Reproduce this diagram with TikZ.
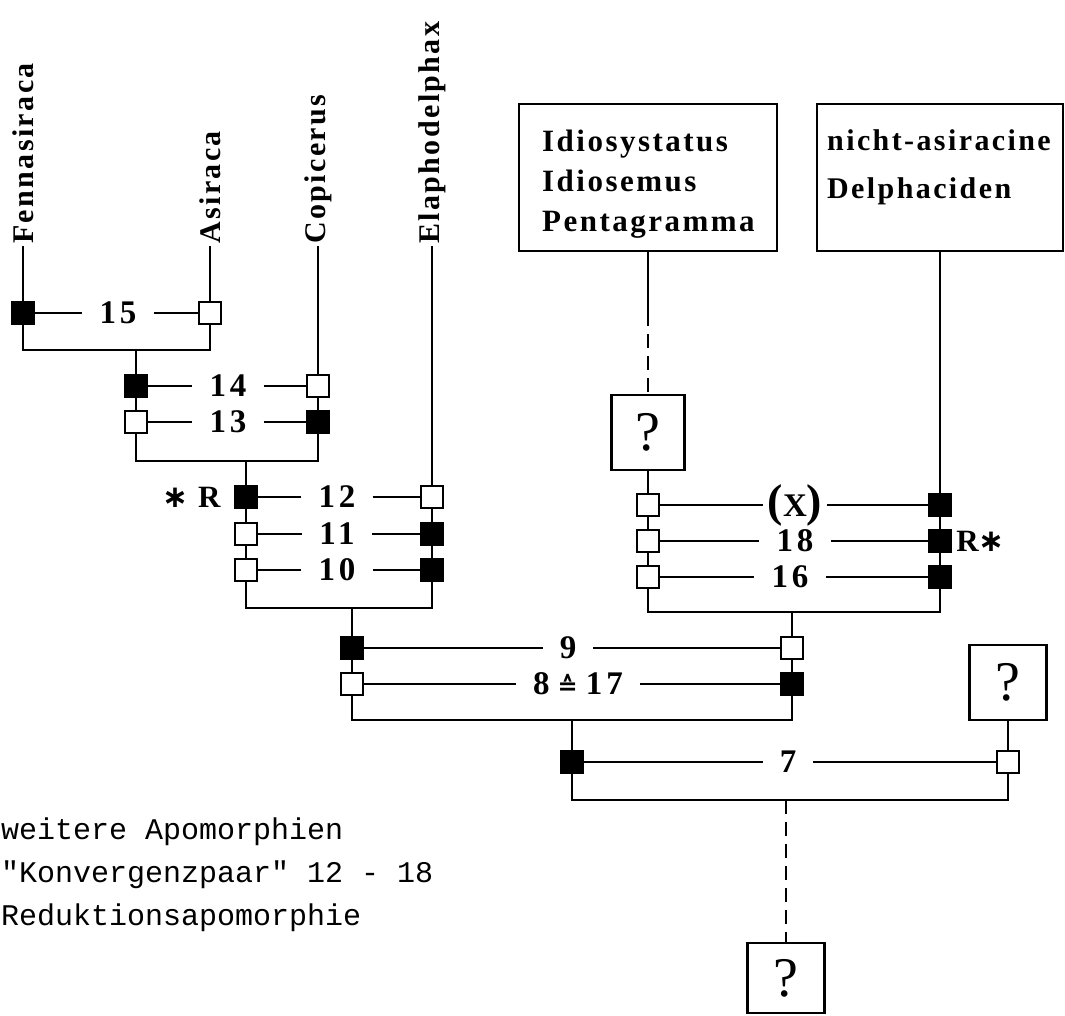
\documentclass[tikz,border=0pt]{standalone}
\usepackage{fontspec}
\setmainfont{Liberation Serif}
\newfontfamily\lblfont[LetterSpace=8]{Liberation Serif}
\newfontfamily\numfont[LetterSpace=12]{Liberation Serif}
\newfontfamily\legfont{Liberation Mono}
\newfontfamily\symfont{DejaVu Sans}
\begin{document}
\begin{tikzpicture}[x=1pt,y=-1pt, line width=2.4pt,
  sqf/.style={draw, fill=black, minimum size=22pt, inner sep=0pt},
  sqo/.style={draw, fill=white, minimum size=22pt, inner sep=0pt},
  taxon/.style={font=\lblfont\bfseries\fontsize{30}{36}\selectfont, rotate=90, anchor=west, inner sep=1pt},
  chr/.style={font=\numfont\bfseries\fontsize{33}{33}\selectfont, inner xsep=16pt, inner ysep=0pt},
  tbox/.style={draw, inner sep=0pt},
  qbox/.style={draw, inner sep=0pt, font=\fontsize{56}{56}\selectfont},
  boxtext/.style={font=\lblfont\bfseries\fontsize{31}{40}\selectfont, align=left, anchor=west, inner sep=0pt},
  rmark/.style={font=\lblfont\bfseries\fontsize{31}{31}\selectfont, inner sep=0pt},
  legend/.style={font=\legfont\fontsize{30}{30}\selectfont, anchor=west, inner sep=0pt},
  dashedline/.style={dash pattern=on 14pt off 8pt}]

\useasboundingbox (0,0) rectangle (1065,1015);

% taxa
\node[taxon] (fen) at (23,246) {Fennasiraca};
\node[taxon] (asi) at (210,246) {Asiraca};
\node[taxon] (cop) at (318,246) {Copicerus};
\node[taxon] (ela) at (432,246) {Elaphodelphax};

% boxes top right
\node[tbox, minimum width=258pt, minimum height=147pt] (idio) at (648,177.5) {};
\node[boxtext] (idiotxt) at (541,184) {Idiosystatus\\Idiosemus\\Pentagramma};
\node[tbox, minimum width=246pt, minimum height=147pt] (nicht) at (940,177.5) {};
\node[boxtext, font=\lblfont\bfseries\fontsize{30}{48}\selectfont] (nichttxt) at (826,167) {nicht-asiracine\\Delphaciden};

% question boxes
\node[qbox, minimum width=73pt, minimum height=75pt] (q1) at (648,432.5) {?};
\node[qbox, minimum width=77pt, minimum height=75pt] (q2) at (1008,682.5) {?};
\node[qbox, minimum width=77pt, minimum height=70pt] (q3) at (786,978) {?};

% squares
\node[sqf] (f15) at (23,313) {};
\node[sqo] (a15) at (210,313) {};
\node[sqf] (l14) at (136,386) {};
\node[sqo] (l13) at (136,422) {};
\node[sqo] (r14) at (318,386) {};
\node[sqf] (r13) at (318,422) {};
\node[sqf] (l12) at (246,497) {};
\node[sqo] (l11) at (246,534) {};
\node[sqo] (l10) at (246,570) {};
\node[sqo] (r12) at (432,497) {};
\node[sqf] (r11) at (432,534) {};
\node[sqf] (r10) at (432,570) {};
\node[sqf] (l9) at (352,648) {};
\node[sqo] (l8) at (352,684) {};
\node[sqo] (r9) at (792,648) {};
\node[sqf] (r8) at (792,684) {};
\node[sqo] (lx) at (648,505) {};
\node[sqo] (l18) at (648,541) {};
\node[sqo] (l16) at (648,577) {};
\node[sqf] (rx) at (940,505) {};
\node[sqf] (r18) at (940,541) {};
\node[sqf] (r16) at (940,577) {};
\node[sqf] (l7) at (572,762) {};
\node[sqo] (r7) at (1008,762) {};

% junction coordinates
\coordinate (b15l) at (23,350);
\coordinate (b15r) at (210,350);
\coordinate (j15) at (136,350);
\coordinate (b13l) at (136,461);
\coordinate (b13r) at (318,461);
\coordinate (j13) at (246,461);
\coordinate (b10l) at (246,608);
\coordinate (b10r) at (432,608);
\coordinate (j10) at (352,608);
\coordinate (b16l) at (648,612);
\coordinate (b16r) at (940,612);
\coordinate (j16) at (792,612);
\coordinate (b8l) at (352,720);
\coordinate (b8r) at (792,720);
\coordinate (j8) at (572,720);
\coordinate (b7l) at (572,800);
\coordinate (b7r) at (1008,800);
\coordinate (j7) at (786,800);
\coordinate (idiodash) at (648,312);

% tree lines
\draw (fen.west) -- (f15);
\draw (asi.west) -- (a15);
\draw (f15) -- (b15l) -- (b15r) -- (a15);
\draw (j15) -- (l14);
\draw (l14) -- (l13);
\draw (cop.west) -- (r14);
\draw (r14) -- (r13);
\draw (l13) -- (b13l) -- (b13r) -- (r13);
\draw (j13) -- (l12);
\draw (l12) -- (l11);
\draw (l11) -- (l10);
\draw (ela.west) -- (r12);
\draw (r12) -- (r11);
\draw (r11) -- (r10);
\draw (l10) -- (b10l) -- (b10r) -- (r10);
\draw (j10) -- (l9);
\draw (l9) -- (l8);
\draw (l8) -- (b8l) -- (b8r) -- (r8);
\draw (idio) -- (idiodash);
\draw[dashedline] (idiodash) -- (q1);
\draw (q1) -- (lx);
\draw (lx) -- (l18);
\draw (l18) -- (l16);
\draw (nicht) -- (rx);
\draw (rx) -- (r18);
\draw (r18) -- (r16);
\draw (l16) -- (b16l) -- (b16r) -- (r16);
\draw (j16) -- (r9);
\draw (r9) -- (r8);
\draw (j8) -- (l7);
\draw (q2) -- (r7);
\draw (l7) -- (b7l) -- (b7r) -- (r7);
\draw[dashedline] (j7) -- (q3);

% character lines
\node[chr] (c15) at (118,313) {15};
\draw (f15) -- (c15) -- (a15);
\node[chr] (c14) at (228,386) {14};
\draw (l14) -- (c14) -- (r14);
\node[chr] (c13) at (228,422) {13};
\draw (l13) -- (c13) -- (r13);
\node[chr] (c12) at (337,497) {12};
\draw (l12) -- (c12) -- (r12);
\node[chr] (c11) at (337,534) {11};
\draw (l11) -- (c11) -- (r11);
\node[chr] (c10) at (337,570) {10};
\draw (l10) -- (c10) -- (r10);
\node[chr] (c9) at (568,648) {9};
\draw (l9) -- (c9) -- (r9);
\node[chr] (c8) at (578,684) {8\hspace{8pt}{\symfont\fontsize{24}{24}\selectfont ≙}\hspace{8pt}17};
\draw (l8) -- (c8) -- (r8);
\node[chr, inner xsep=4pt] (cx) at (795,505) {{\fontsize{46}{46}\selectfont(}X{\fontsize{46}{46}\selectfont)}};
\draw (lx) -- (cx) -- (rx);
\node[chr] (c18) at (795,541) {18};
\draw (l18) -- (c18) -- (r18);
\node[chr] (c16) at (790,577) {16};
\draw (l16) -- (c16) -- (r16);
\node[chr] (c7) at (788,762) {7};
\draw (l7) -- (c7) -- (r7);

% R marks
\node[rmark, anchor=east] (rl) at ([xshift=-12pt]l12.west) {{\symfont\bfseries ∗}\hspace{10pt}R};
\node[rmark, anchor=west] (rr) at ([xshift=3pt]r18.east) {R{\symfont\bfseries ∗}};

% legend
\node[legend] (leg1) at (0,832) {weitere Apomorphien};
\node[legend] (leg2) at (0,875) {"Konvergenzpaar" 12 - 18};
\node[legend] (leg3) at (0,918) {Reduktionsapomorphie};
\end{tikzpicture}
\end{document}
